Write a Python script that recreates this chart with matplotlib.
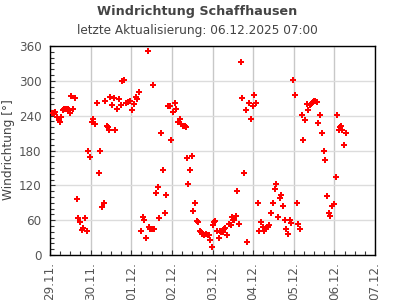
import matplotlib
matplotlib.use("Agg")
import matplotlib.pyplot as plt
import matplotlib.dates as mdates
from matplotlib.ticker import MultipleLocator
import pandas as pd

### Windrichtung Schaffhausen - Messwerte der letzten Woche als Punktwolke

title = "Windrichtung Schaffhausen"
subtitle = "letzte Aktualisierung: 06.12.2025 07:00"
start = "2025-11-29 00:00"
end = "2025-12-07 00:00"

# Stunden seit 29.11. 00:00
hours = [
    1.0, 2.2, 3.2, 4.2, 5.1, 5.9, 6.5, 7.5, 8.5, 9.5, 10.5, 11.4, 12.0, 12.4, 13.6, 14.8,
    16.0, 16.6, 17.7, 18.9, 19.7, 20.7, 21.9, 22.5, 23.7, 24.8, 25.4, 26.8, 27.8, 28.8,
    29.6, 30.8, 31.9, 32.5, 33.7, 34.5, 35.1, 35.5, 36.7, 37.8, 38.4, 39.4, 40.8, 42.0,
    42.6, 43.8, 44.9, 46.1, 47.3, 48.5, 49.7, 50.8, 51.4, 52.6, 53.8, 55.0, 55.6, 56.8,
    57.9, 58.5, 59.1, 60.3, 60.9, 61.5, 62.7, 63.8, 64.4, 65.6, 66.8, 68.0, 68.6, 69.8,
    70.9, 71.5, 72.7, 73.9, 74.7, 75.7, 76.7, 77.6, 78.6, 79.6, 80.2, 81.0, 81.8, 82.8,
    83.9, 84.5, 85.7, 86.9, 87.5, 88.7, 89.3, 89.8, 90.4, 91.0, 92.2, 93.4, 94.0, 94.6,
    95.8, 96.4, 96.9, 97.5, 98.7, 99.9, 100.5, 101.1, 101.7, 102.3, 102.9, 103.5, 104.6,
    105.8, 107.0, 107.6, 108.2, 108.8, 109.9, 110.5, 111.7, 112.9, 113.5, 114.7, 115.9,
    116.4, 117.6, 118.8, 120.0, 120.6, 121.8, 122.9, 123.5, 124.7, 125.9, 126.5, 127.1,
    127.7, 128.3, 128.9, 129.5, 130.6, 131.8, 133.0, 133.6, 134.8, 136.0, 136.6, 137.7,
    138.9, 139.5, 140.7, 141.9, 142.5, 143.6, 144.8, 146.0, 146.6, 147.8, 149.0, 149.6,
    150.7, 151.9, 152.5, 153.7, 154.3, 154.9, 155.5, 156.1, 156.7, 157.8, 158.4, 159.6,
    160.8, 161.9, 162.5, 163.7, 164.9, 165.5, 166.7, 167.8, 169.0, 169.6, 170.8, 171.4,
    172.0, 172.6, 173.8, 175.0,
]

# Windrichtung in Grad
direction = [
    244, 245, 246, 237, 233, 229, 237, 249, 251, 251, 251, 249, 245, 274, 252, 270,
    96, 64, 56, 43, 46, 63, 41, 179, 168, 229, 234, 225, 261, 141,
    179, 82, 89, 265, 222, 220, 216, 272, 258, 270, 216, 251, 268, 258,
    299, 301, 261, 264, 265, 249, 260, 273, 268, 280, 41, 65, 60, 29,
    351, 48, 45, 44, 292, 44, 106, 117, 63, 210, 146, 72, 103, 256,
    256, 198, 246, 262, 251, 229, 234, 225, 223, 222, 221, 167, 122, 146,
    170, 75, 89, 58, 56, 42, 39, 36, 37, 34, 36, 34, 34, 25,
    13, 51, 56, 58, 41, 29, 41, 39, 39, 39, 44, 46, 34,
    53, 51, 65, 61, 60, 68, 110, 53, 332, 270, 142, 249,
    22, 261, 235, 256, 275, 261, 89, 42, 56, 48, 41, 44,
    46, 48, 49, 51, 72, 89, 113, 123, 65, 98, 103, 84,
    60, 44, 36, 60, 55, 301, 275, 89, 53, 44, 242, 198,
    232, 260, 249, 258, 260, 261, 263, 265, 265, 263, 227, 242,
    210, 179, 163, 101, 72, 68, 84, 87, 134, 242, 216, 220,
    222, 215, 189, 210,
]

times = pd.Timestamp(start) + pd.to_timedelta(hours, unit="h")

text_color = "#444444"
tick_color = "#555555"

fig = plt.figure(figsize=(3.95, 3.0), dpi=100)
ax = fig.add_axes([50 / 395, 45 / 300, 325 / 395, 209 / 300])

ax.plot(times, direction, linestyle="none", marker="P", markersize=4.2,
        color="#ff0000", markeredgewidth=0, zorder=3)

ax.set_xlim(pd.Timestamp(start), pd.Timestamp(end))
ax.set_ylim(0, 360)

# Achsen und Ticks
ax.xaxis.set_major_locator(mdates.DayLocator())
ax.xaxis.set_minor_locator(mdates.HourLocator(byhour=[0, 6, 12, 18]))
ax.xaxis.set_major_formatter(mdates.DateFormatter("%d.%m."))
ax.yaxis.set_major_locator(MultipleLocator(60))
ax.yaxis.set_minor_locator(MultipleLocator(10))

ax.tick_params(axis="both", which="both", direction="in", color="#333333",
               top=False, right=False, labelsize=8.6, labelcolor=tick_color)
ax.tick_params(axis="both", which="major", length=3.5, width=0.8)
ax.tick_params(axis="both", which="minor", length=3, width=0.8)
ax.tick_params(axis="x", which="major", pad=5, labelrotation=90)
ax.tick_params(axis="y", which="major", pad=6)

ax.grid(axis="x", which="major", color="#c8c8c8", linewidth=1, zorder=0)
ax.grid(axis="y", which="major", color="#dcdcdc", linewidth=1, zorder=0)
ax.set_axisbelow(True)

for spine in ax.spines.values():
    spine.set_color("black")
    spine.set_linewidth(1)

# Beschriftungen
fig.text(0.5, 1 - 11 / 300, title, ha="center", va="center",
         fontsize=9.2, fontweight="bold", color=text_color)
fig.text(0.5, 1 - 30.5 / 300, subtitle, ha="center", va="center",
         fontsize=8.7, color=text_color)
fig.text(9 / 395, 1 - 150 / 300, "Windrichtung [°]", rotation=90,
         ha="center", va="center", fontsize=8.7, color=text_color)

fig.savefig("out.png", dpi=100)
